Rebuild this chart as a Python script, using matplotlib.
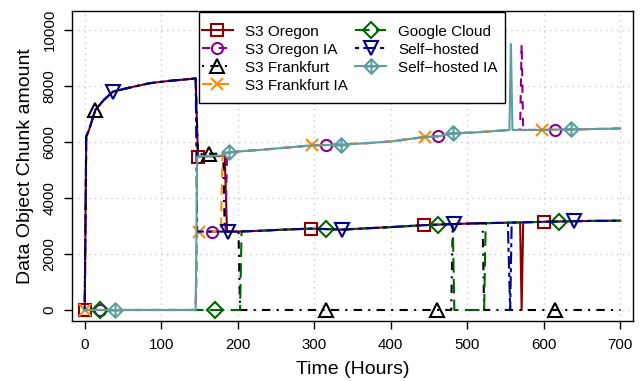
import numpy as np
import matplotlib
matplotlib.use('Agg')
import matplotlib.pyplot as plt
from matplotlib.path import Path
from matplotlib.patches import Rectangle

plt.rcParams['font.family'] = ['Liberation Sans', 'DejaVu Sans']

# shared shapes (hours -> chunk count)
ramp_t = [0, 2, 5, 14, 25, 37, 60, 85, 110, 130, 145]
ramp_v = [0, 6200, 6380, 7150, 7500, 7800, 7950, 8100, 8180, 8230, 8270]

upper_t = [188, 200, 230, 260, 297, 315, 335, 370, 400, 445, 462, 481, 510, 536, 550, 565, 580, 597, 615, 636, 660, 700]
upper_v = [5630, 5660, 5720, 5790, 5880, 5890, 5910, 5960, 6020, 6180, 6200, 6310, 6340, 6390, 6420, 6430, 6430, 6430, 6440, 6450, 6460, 6480]

lower_t = [196, 230, 260, 296, 315, 336, 370, 400, 444, 462, 483, 500, 520, 540, 565, 580, 600, 620, 640, 660, 700]
lower_v = [2800, 2830, 2870, 2905, 2890, 2870, 2920, 2960, 3030, 3050, 3070, 3085, 3100, 3110, 3125, 3135, 3150, 3160, 3170, 3180, 3190]


def part(ts, vs, lo, hi):
    return [(t, v) for t, v in zip(ts, vs) if lo <= t <= hi]


oregon = (part(ramp_t, ramp_v, 0, 145) + [(148, 5480), (183, 5500), (186, 2800)]
          + part(lower_t, lower_v, 196, 565) + [(569, 3130), (571, 0), (573, 3130)]
          + part(lower_t, lower_v, 580, 700))
oregon_ia = ([(0, 0), (20, 0), (145, 0), (147, 2800), (167, 2800), (184, 2800), (186, 5560)]
             + part(upper_t, upper_v, 188, 565) + [(569, 6430), (571, 9500), (573, 6430)]
             + part(upper_t, upper_v, 580, 700))
frankfurt = (part(ramp_t, ramp_v, 0, 145)
             + [(148, 5560), (162, 5580), (181, 5580), (183, 2800), (201, 2800), (203, 0),
                (315, 0), (460, 0), (479, 0), (481, 3070)]
             + part(lower_t, lower_v, 500, 520) + [(522, 0), (615, 0), (700, 0)])
frankfurt_ia = ([(0, 0), (145, 0), (147, 2800), (149, 2800), (178, 2800), (180, 5560)]
                + part(upper_t, upper_v, 188, 700))
google = ([(0, 0), (20, 0), (170, 0), (203, 0), (205, 2800)]
          + part(lower_t, lower_v, 230, 462) + [(481, 3068), (483, 0), (522, 0), (524, 3100)]
          + part(lower_t, lower_v, 540, 700))
selfhosted = (part(ramp_t, ramp_v, 0, 145) + [(147, 2800), (187, 2800)]
              + part(lower_t, lower_v, 196, 540) + [(553, 3115), (556, 0), (558, 3120)]
              + part(lower_t, lower_v, 565, 700))
selfhosted_ia = ([(0, 0), (40, 0), (145, 0), (147, 5480), (180, 5520)]
                 + part(upper_t, upper_v, 188, 550) + [(555, 6425), (557, 9500), (559, 6430)]
                 + part(upper_t, upper_v, 565, 700))

# hours at which each series carries a symbol
marks_oregon = [0, 148, 296, 444, 600]
marks_oregon_ia = [20, 167, 315, 462, 615]
marks_frankfurt = [14, 162, 315, 460, 615]
marks_frankfurt_ia = [0, 149, 297, 445, 597]
marks_google = [20, 170, 315, 462, 620]
marks_selfhosted = [37, 187, 336, 483, 640]
marks_selfhosted_ia = [40, 188, 335, 481, 636]

# diamond with a plus inside (R pch 9)
diamond_plus = Path([(0, 1), (1, 0), (0, -1), (-1, 0), (0, 1), (0, 1), (0, -1), (-1, 0), (1, 0)],
                    [Path.MOVETO, Path.LINETO, Path.LINETO, Path.LINETO, Path.CLOSEPOLY,
                     Path.MOVETO, Path.LINETO, Path.MOVETO, Path.LINETO])

series = [
    ('S3 Oregon', oregon, marks_oregon, '#8B0000', '-', 's', 8),
    ('S3 Oregon IA', oregon_ia, marks_oregon_ia, '#8B008B', (0, (4, 4)), 'o', 8),
    ('S3 Frankfurt', frankfurt, marks_frankfurt, 'black', (0, (1, 3, 4, 3)), '^', 10),
    ('S3 Frankfurt IA', frankfurt_ia, marks_frankfurt_ia, '#FF8C00', (0, (5, 3)), 'x', 8),
    ('Google Cloud', google, marks_google, '#006400', (0, (7, 3)), 'D', 8.5),
    ('Self\u2212hosted', selfhosted, marks_selfhosted, '#00008B', (0, (2, 2, 6, 2)), 'v', 10),
    ('Self\u2212hosted IA', selfhosted_ia, marks_selfhosted_ia, '#5F9EA0', '-', diamond_plus, 10.5),
]

fig = plt.figure(figsize=(6.43, 3.81), dpi=100)
ax = fig.add_axes([0.1115, 0.1575, 0.8735, 0.8145])

for name, pts, marks, col, ls, mk, ms in series:
    t = [p[0] for p in pts]
    v = [p[1] for p in pts]
    idx = [t.index(m) for m in marks]
    ax.plot(t, v, color=col, linestyle=ls, linewidth=1.5, marker=mk, markersize=ms,
            markerfacecolor='none', markeredgecolor=col, markeredgewidth=1.5,
            markevery=idx, label=name)

ax.set_xlim(-17, 717)
ax.set_ylim(-393, 10690)
ax.set_xticks(np.arange(0, 701, 100))
ax.set_yticks(np.arange(0, 10001, 2000))
ax.grid(True, color='#CCCCCC', linestyle=(0, (1, 3)), linewidth=1)
ax.set_axisbelow(True)
ax.tick_params(direction='out', length=6, width=1, labelsize=10.8, pad=6)
ax.tick_params(axis='y', labelrotation=90, pad=5)
for lab in ax.get_yticklabels():
    lab.set_va('center')
for sp in ax.spines.values():
    sp.set_linewidth(1)

ax.set_xlabel('Time (Hours)', fontsize=14, labelpad=7)
ax.set_ylabel('Data Object Chunk amount', fontsize=14, labelpad=6)

# legend frame drawn on its own so its padding can follow the original
frame = Rectangle((199.3 / 643, 1 - 102.7 / 381), (505 - 199.3) / 643, 91 / 381,
                  transform=fig.transFigure, facecolor='white', edgecolor='black',
                  linewidth=1, zorder=5, clip_on=False)
ax.add_patch(frame)
leg = ax.legend(loc='upper left', bbox_to_anchor=(196 / 643, 1 - 18.7 / 381),
                bbox_transform=fig.transFigure, ncol=2, fontsize=11, frameon=False,
                borderaxespad=0, borderpad=0.4, handlelength=2.0, handletextpad=0.8,
                columnspacing=0.5, labelspacing=0.26, numpoints=1)
leg.set_zorder(6)

fig.savefig('out.png', dpi=100)
